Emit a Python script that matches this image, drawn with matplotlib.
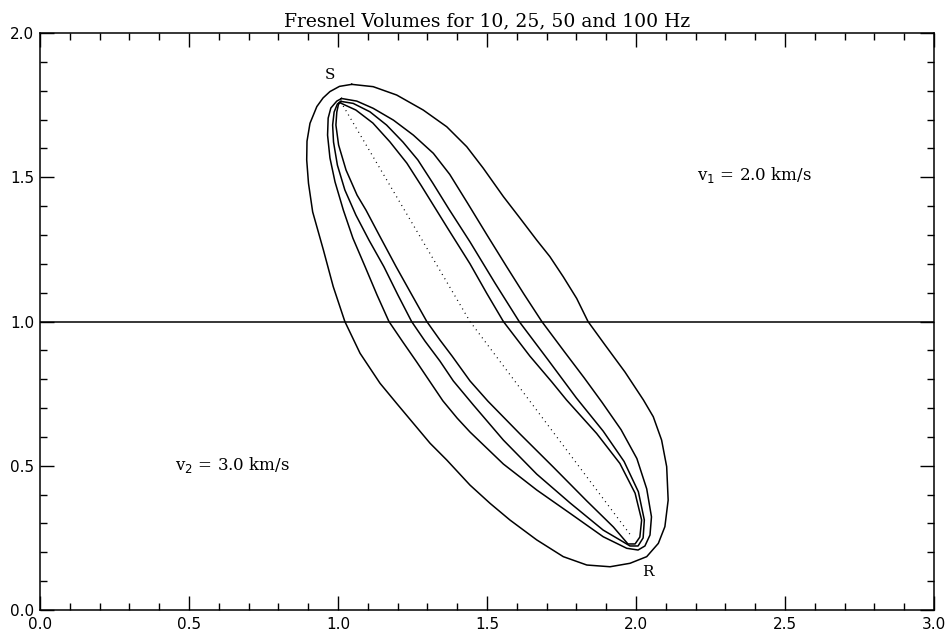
import numpy as np
import matplotlib
matplotlib.use('Agg')
import matplotlib.pyplot as plt
from matplotlib.ticker import MultipleLocator, FormatStrFormatter

# Fresnel volume outlines (x, y in km)
x_10 = [1.046, 1.118, 1.197, 1.286, 1.365, 1.432, 1.487, 1.555, 1.611, 1.667, 1.711, 1.756, 1.801, 1.839,
        1.896, 1.963, 2.025, 2.058, 2.086, 2.103, 2.108, 2.097, 2.075, 2.036, 1.980, 1.913, 1.835, 1.756,
        1.667, 1.577, 1.510, 1.443, 1.365, 1.309, 1.253, 1.197, 1.141, 1.074, 1.023, 0.984, 0.951, 0.915,
        0.901, 0.895, 0.896, 0.906, 0.929, 0.950, 0.973, 1.005]
y_10 = [1.822, 1.814, 1.785, 1.733, 1.675, 1.606, 1.532, 1.433, 1.358, 1.282, 1.225, 1.155, 1.080, 1.000,
        0.919, 0.825, 0.728, 0.670, 0.589, 0.497, 0.381, 0.289, 0.231, 0.185, 0.162, 0.150, 0.156, 0.185,
        0.243, 0.312, 0.370, 0.433, 0.520, 0.578, 0.647, 0.716, 0.786, 0.890, 1.000, 1.121, 1.248, 1.380,
        1.479, 1.560, 1.625, 1.687, 1.745, 1.775, 1.797, 1.815]

x_25 = [1.012, 1.063, 1.118, 1.186, 1.253, 1.320, 1.375, 1.435, 1.500, 1.566, 1.624, 1.684, 1.760, 1.826,
        1.886, 1.950, 2.003, 2.036, 2.052, 2.047, 2.030, 2.007, 1.969, 1.890, 1.779, 1.667, 1.555, 1.443,
        1.400, 1.352, 1.305, 1.264, 1.217, 1.171, 1.131, 1.091, 1.050, 1.018, 0.990, 0.973, 0.965, 0.967,
        0.976, 0.996]
y_25 = [1.773, 1.764, 1.739, 1.698, 1.646, 1.583, 1.510, 1.410, 1.300, 1.190, 1.095, 1.000, 0.895, 0.805,
        0.720, 0.625, 0.525, 0.420, 0.323, 0.260, 0.222, 0.208, 0.214, 0.254, 0.335, 0.416, 0.506, 0.617,
        0.665, 0.725, 0.797, 0.860, 0.930, 1.000, 1.092, 1.190, 1.289, 1.386, 1.484, 1.567, 1.646, 1.705,
        1.740, 1.764]

x_50 = [1.010, 1.051, 1.107, 1.163, 1.218, 1.268, 1.318, 1.372, 1.443, 1.527, 1.608, 1.705, 1.800, 1.890,
        1.960, 2.008, 2.028, 2.024, 2.007, 1.980, 1.946, 1.890, 1.779, 1.667, 1.555, 1.454, 1.387, 1.342,
        1.292, 1.247, 1.201, 1.154, 1.104, 1.060, 1.023, 0.998, 0.985, 0.982, 0.987, 0.998]
y_50 = [1.763, 1.756, 1.727, 1.681, 1.622, 1.560, 1.480, 1.390, 1.276, 1.133, 1.000, 0.867, 0.735, 0.620,
        0.515, 0.410, 0.312, 0.250, 0.222, 0.222, 0.243, 0.277, 0.371, 0.471, 0.589, 0.711, 0.794, 0.863,
        0.932, 1.000, 1.092, 1.190, 1.282, 1.369, 1.456, 1.542, 1.622, 1.681, 1.726, 1.754]

x_100 = [1.005, 1.060, 1.117, 1.174, 1.231, 1.280, 1.325, 1.370, 1.443, 1.499, 1.555, 1.644, 1.718, 1.767,
         1.868, 1.946, 1.997, 2.019, 2.013, 1.997, 1.973, 1.924, 1.835, 1.722, 1.611, 1.503, 1.443, 1.383,
         1.342, 1.298, 1.248, 1.195, 1.138, 1.094, 1.064, 1.027, 1.002, 0.993, 0.996, 1.001]
y_100 = [1.759, 1.733, 1.688, 1.623, 1.549, 1.470, 1.395, 1.320, 1.200, 1.098, 1.000, 0.880, 0.790, 0.728,
         0.612, 0.508, 0.405, 0.312, 0.253, 0.229, 0.229, 0.288, 0.378, 0.496, 0.610, 0.724, 0.794, 0.880,
         0.936, 1.000, 1.092, 1.190, 1.300, 1.386, 1.438, 1.525, 1.612, 1.681, 1.726, 1.750]

# ray path source -> interface -> receiver
ray_x = [1.009, 1.443, 1.986]
ray_y = [1.762, 1.000, 0.254]

interface_depth = 1.0
v1_label = r'v$_1$ = 2.0 km/s'
v2_label = r'v$_2$ = 3.0 km/s'

fig = plt.figure(figsize=(9.48, 6.42), dpi=100)
ax = fig.add_axes([0.0422, 0.0498, 0.943, 0.8988])

for xs, ys in [(x_10, y_10), (x_25, y_25), (x_50, y_50), (x_100, y_100)]:
    ax.plot(xs + xs[:1], ys + ys[:1], color='black', lw=1.1, solid_joinstyle='round')

ax.plot(ray_x, ray_y, color='black', lw=0.9, linestyle=(0, (0.8, 3.2)))
ax.axhline(interface_depth, color='black', lw=1.1)

ax.text(0.973, 1.855, 'S', family='DejaVu Serif', fontsize=11, ha='center', va='center')
ax.text(2.04, 0.132, 'R', family='DejaVu Serif', fontsize=11, ha='center', va='center')
ax.text(2.205, 1.508, v1_label, family='DejaVu Serif', fontsize=12, ha='left', va='center')
ax.text(0.453, 0.503, v2_label, family='DejaVu Serif', fontsize=12, ha='left', va='center')

ax.set_xlim(0, 3)
ax.set_ylim(0, 2)
ax.xaxis.set_major_locator(MultipleLocator(0.5))
ax.xaxis.set_minor_locator(MultipleLocator(0.1))
ax.yaxis.set_major_locator(MultipleLocator(0.5))
ax.yaxis.set_minor_locator(MultipleLocator(0.1))
ax.xaxis.set_major_formatter(FormatStrFormatter('%.1f'))
ax.yaxis.set_major_formatter(FormatStrFormatter('%.1f'))
ax.tick_params(which='both', direction='in', top=True, right=True, labelsize=11)
ax.tick_params(which='major', length=10, width=1)
ax.tick_params(which='minor', length=5, width=1)
ax.tick_params(axis='x', pad=5)
ax.tick_params(axis='y', pad=4)
for s in ax.spines.values():
    s.set_linewidth(1.1)

ax.set_title('Fresnel Volumes for 10, 25, 50 and 100 Hz', family='DejaVu Serif', fontsize=13.5, pad=5)

fig.savefig('out.png', dpi=100)
